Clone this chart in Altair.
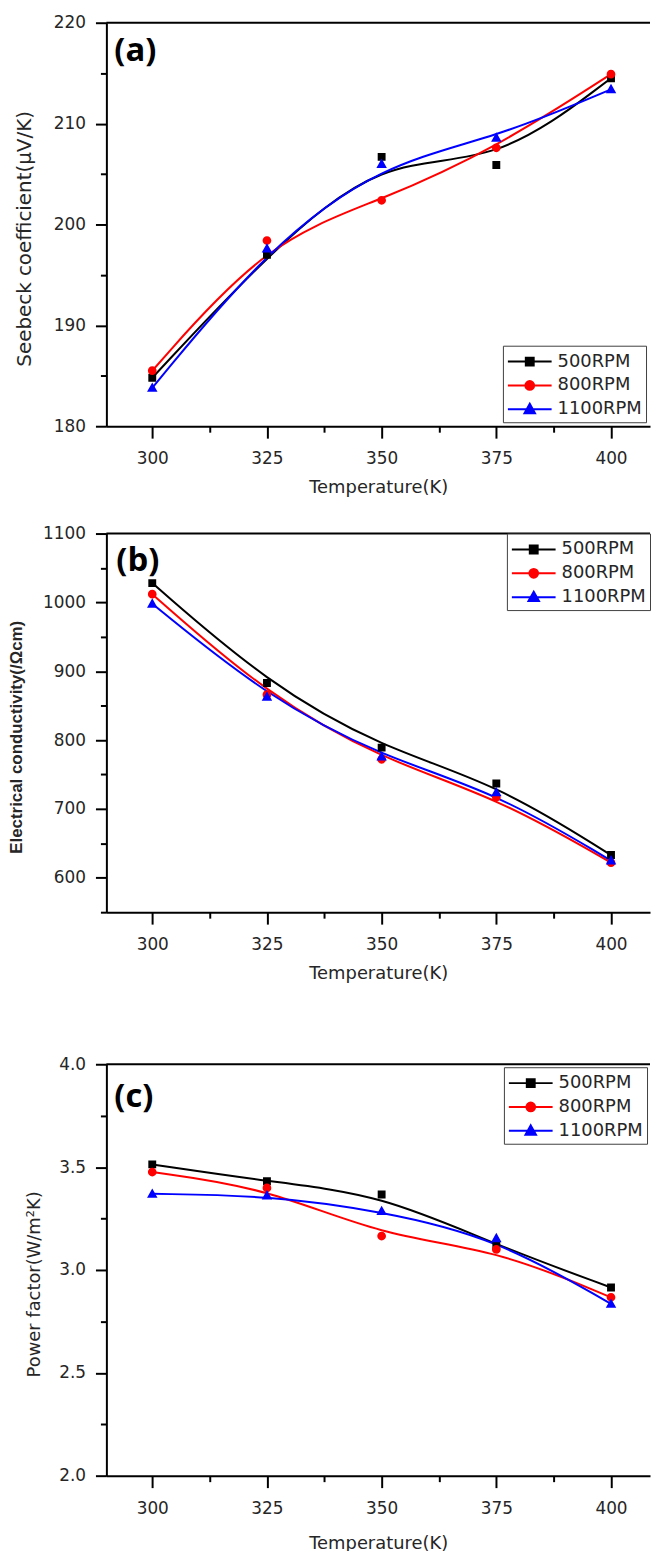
import altair as alt
import pandas as pd

temps = [300, 325, 350, 375, 400]
series = ["500RPM", "800RPM", "1100RPM"]
colors = ["#000000", "#ff0000", "#0000ff"]
# marker glyphs with a short line through them; the line only shows where the
# symbol is stroked (in the legend), the plotted markers are fill-only
glyphs = [
    "M-2,0H2M-0.36,-0.36H0.36V0.36H-0.36Z",
    "M-2,0H2M-0.4,0A0.4,0.4,0,1,0,0.4,0A0.4,0.4,0,1,0,-0.4,0Z",
    "M-2,0H2M0,-0.5L0.48,0.36L-0.48,0.36Z",
]

seebeck_500 = [184.8, 197.0, 206.7, 205.9, 214.5]
seebeck_800 = [185.5, 198.4, 202.4, 207.6, 214.9]
seebeck_1100 = [183.8, 197.6, 206.0, 208.6, 213.4]

cond_500 = [1028, 883, 789, 737, 633]
cond_800 = [1012, 866, 772, 717, 622]
cond_1100 = [998, 863, 776, 724, 625]

pf_500 = [3.513, 3.431, 3.367, 3.12, 2.915]
pf_800 = [3.476, 3.399, 3.165, 3.100, 2.867]
pf_1100 = [3.370, 3.362, 3.286, 3.154, 2.835]

x_ticks = [300, 312.5, 325, 337.5, 350, 362.5, 375, 387.5, 400]
seebeck_ticks = [180, 185, 190, 195, 200, 205, 210, 215, 220]
cond_ticks = [550, 600, 650, 700, 750, 800, 850, 900, 950, 1000, 1050, 1100]
pf_ticks = [2.0, 2.25, 2.5, 2.75, 3.0, 3.25, 3.5, 3.75, 4.0]

W = 547
LABEL_FONT = "DejaVu Sans"
TXT = "#262626"


def make_df(v500, v800, v1100):
    rows = []
    for s, vals in zip(series, [v500, v800, v1100]):
        for t, v in zip(temps, vals):
            rows.append({"T": t, "V": v, "S": s})
    return pd.DataFrame(rows)


one = pd.DataFrame({"k": [0]})


def panel(df, ydomain, yticks, major_test, yfmt, ytitle, ytitle_font,
          ytitle_size, ytitle_weight, ytitle_x, height, letter, letter_x, letter_y,
          legend_orient, legend_offset, xtitle_pad):
    x = alt.X(
        "T:Q",
        scale=alt.Scale(domain=[290, 408.5], nice=False, zero=False),
        axis=alt.Axis(
            values=x_ticks, title="Temperature(K)",
            labelExpr="datum.value % 25 == 0 ? datum.label : ''",
            tickSize={"condition": {"test": "datum.value % 25 != 0", "value": 6}, "value": 12},
            labelPadding=13, titleFont=LABEL_FONT, titleFontSize=18,
            titleFontWeight="normal", titlePadding=xtitle_pad, labelFlush=False,
        ),
    )
    y = alt.Y(
        "V:Q",
        scale=alt.Scale(domain=ydomain, nice=False, zero=False),
        axis=alt.Axis(
            values=yticks, title=ytitle, format=yfmt,
            labelExpr=f"({major_test}) ? datum.label : ''",
            tickSize={"condition": {"test": f"!({major_test})", "value": 6}, "value": 11},
            labelPadding=10, titleFont=ytitle_font, titleFontSize=ytitle_size,
            titleFontWeight=ytitle_weight, titleX=ytitle_x, titleY=height / 2 + 14,
            titleAngle=270, titleBaseline="middle", titleAlign="center",
            labelFlush=False,
        ),
    )
    lg = alt.Legend(
        title=None, orient=legend_orient, offset=legend_offset, padding=4,
        strokeColor="#404040", fillColor="white", labelFont=LABEL_FONT,
        labelFontSize=18, labelColor=TXT, symbolSize=484, symbolOffset=11,
        labelOffset=16, rowPadding=3, symbolStrokeWidth=2,
    )
    cscale = alt.Scale(domain=series, range=colors)
    lines = alt.Chart(df).mark_line(interpolate="basis", strokeWidth=2).encode(
        x=x, y=y, color=alt.Color("S:N", scale=cscale, legend=lg))
    pts = alt.Chart(df).mark_point(filled=True, size=484, opacity=1, strokeWidth=0).encode(
        x=x, y=y,
        color=alt.Color("S:N", scale=cscale, legend=lg),
        stroke=alt.Stroke("S:N", scale=cscale, legend=lg),
        shape=alt.Shape("S:N", scale=alt.Scale(domain=series, range=glyphs), legend=lg))
    frame = alt.Chart(one).mark_rule(color="black", strokeWidth=2).encode(
        x=alt.value(0), x2=alt.value(W), y=alt.value(0))
    tag = alt.Chart(one).mark_text(
        text=letter, font="Open Sans", fontWeight="bold", fontSize=33,
        align="left", baseline="middle", color="black").encode(
        x=alt.value(letter_x), y=alt.value(letter_y))
    return alt.layer(lines, pts, frame, tag).properties(width=W, height=height)


pa = panel(make_df(seebeck_500, seebeck_800, seebeck_1100), [180, 220], seebeck_ticks,
           "datum.value % 10 == 0", "d", "Seebeck coefficient(μV/K)", LABEL_FONT, 20,
           "normal", -82, 406, "(a)", 8, 29, "bottom-right", 4, 12)
pb = panel(make_df(cond_500, cond_800, cond_1100), [550, 1100], cond_ticks,
           "datum.value % 100 == 0", "d", "Electrical conductivity(/Ωcm)", "Liberation Sans", 17,
           "bold", -90, 381, "(b)", 10, 28, "top-right", 0, 12)
pc = panel(make_df(pf_500, pf_800, pf_1100), [2.0, 4.0], pf_ticks,
           "round(datum.value * 100) % 50 == 0", ".1f", "Power factor(W/m²K)", LABEL_FONT, 18,
           "normal", -72, 414, "(c)", 8, 33, "top-right", 3, 18)

res = dict(color="independent", shape="independent", stroke="independent",
           x="independent", y="independent")
top = alt.vconcat(pa, pb, spacing=28).resolve_scale(**res)
chart = alt.vconcat(top, pc, spacing=73).resolve_scale(**res).properties(
    padding={"left": 0, "top": 1, "right": 0, "bottom": 0}
).configure_view(stroke=None).configure_axis(
    domainColor="black", domainWidth=2, tickColor="black", tickWidth=2,
    labelFont=LABEL_FONT, labelFontSize=17, labelColor=TXT, titleColor=TXT, grid=False,
)

chart.save("out.html", embed_options={"renderer": "svg", "actions": False})
